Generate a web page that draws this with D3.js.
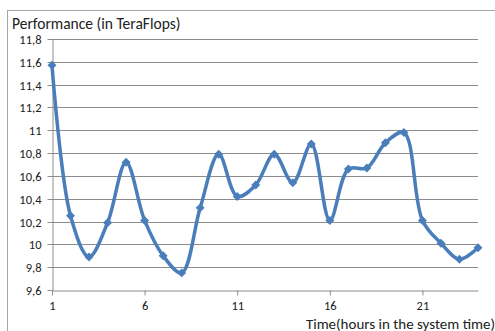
<!DOCTYPE html>
<html><head><meta charset="utf-8">
<script src="https://cdn.jsdelivr.net/npm/d3@7"></script>
<style>html,body{margin:0;padding:0;background:#fff;}svg{display:block;font-family:Carlito,Lato,"Open Sans",sans-serif;}</style>
</head><body>
<svg id="c" width="495" height="331"></svg>
<script>
const hours = d3.range(1, 25);
const performance = [11.57,10.25,9.89,10.19,10.72,10.21,9.9,9.75,10.32,10.79,10.42,10.52,10.79,10.54,10.88,10.21,10.66,10.67,10.89,10.98,10.21,10.01,9.87,9.97];
const yTicks = [9.6,9.8,10,10.2,10.4,10.6,10.8,11,11.2,11.4,11.6,11.8];
const xTicks = [1,6,11,16,21];
const title = "Performance (in TeraFlops)";
const xTitle = "Time(hours in the system time)";

const svg = d3.select("#c");
const x = d3.scaleLinear().domain([1,24]).range([52,478]);
const y = d3.scaleLinear().domain([9.6,11.8]).range([290,39]);

svg.append("rect").attr("x",7.5).attr("y",10.5).attr("width",500).attr("height",340)
  .attr("fill","none").attr("stroke","#a6a6a6");

svg.append("g").selectAll("line").data(yTicks.slice(1)).join("line")
  .attr("x1",52).attr("x2",478).attr("y1",d=>Math.round(y(d))+0.5).attr("y2",d=>Math.round(y(d))+0.5)
  .attr("stroke","#8c8c8c").attr("stroke-width",1);

const fmt = d => String(+d.toFixed(1)).replace(".", ",");
const ya = svg.append("g").attr("transform","translate(52.5,0)")
  .call(d3.axisLeft(y).tickValues(yTicks).tickFormat(fmt).tickSize(5).tickPadding(6).tickSizeOuter(0));
ya.selectAll("text").attr("font-size","12.5px").attr("fill","#222").attr("font-family","Carlito,Lato,sans-serif");
ya.selectAll("line,path").attr("stroke","#8c8c8c");
ya.selectAll(".tick").attr("transform",d=>`translate(0,${Math.round(y(d))+0.5})`);

const xa = svg.append("g").attr("transform","translate(0,290.5)")
  .call(d3.axisBottom(x).tickValues(xTicks).tickFormat(d3.format("d")).tickSize(5).tickPadding(6).tickSizeOuter(0));
xa.selectAll("text").attr("font-size","12.5px").attr("fill","#222").attr("font-family","Carlito,Lato,sans-serif");
xa.selectAll("line,path").attr("stroke","#8c8c8c");

const pts = hours.map((h,i)=>[x(h), y(performance[i])]);
svg.append("path").attr("d", d3.line().curve(d3.curveCatmullRom.alpha(0.5))(pts))
  .attr("fill","none").attr("stroke","#4a7ebb").attr("stroke-width",3.5).attr("stroke-linejoin","round");

svg.append("g").selectAll("path").data(pts).join("path")
  .attr("d", d3.symbol().type(d3.symbolSquare).size(40))
  .attr("transform",d=>`translate(${d[0]},${d[1]}) rotate(45)`)
  .attr("fill","#4a7ebb");

svg.append("text").attr("x",12).attr("y",29).attr("font-size","15.5px").attr("fill","#222").text(title);
svg.append("text").attr("x",495).attr("y",328.5).attr("text-anchor","end").attr("font-size","15px").attr("fill","#222").text(xTitle);
</script>
</body></html>
